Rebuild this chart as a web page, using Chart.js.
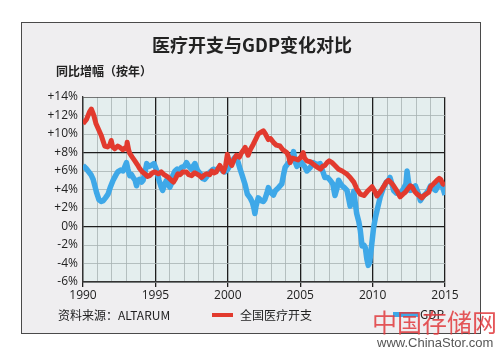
<!DOCTYPE html>
<html>
<head>
<meta charset="utf-8">
<script src="https://cdn.jsdelivr.net/npm/chart.js@4/dist/chart.umd.min.js"></script>
<style>
  html, body { margin: 0; padding: 0; background: #ffffff; }
  #wrap { position: relative; width: 500px; height: 352px; }
</style>
</head>
<body>
<div id="wrap"><canvas id="chartHealth"></canvas></div>
<script>
// ===== 医疗开支与GDP变化对比 =====

const CJK = "'Noto Sans CJK SC', 'Open Sans', sans-serif";

const COLORS = {
  red: '#e23a2e',
  blue: '#3ea8e8',
  panel: '#efeef0',
  plot: '#e4eeee',
  gridLight: '#a7b2b3',
  gridDark: '#1e1e1e',
  text: '#222222',
};

// x 轴刻度（年）与 y 轴范围
const yearTicks = [1990, 1995, 2000, 2005, 2010, 2015];
const yTicks = [-6, -4, -2, 0, 2, 4, 6, 8, 10, 12, 14];

// 全国医疗开支（同比 %）
const healthYears = [
  1990.0, 1990.25, 1990.45, 1990.58, 1990.75, 1990.9, 1991.1, 1991.27, 1991.5, 1991.7,
  1991.85, 1991.95, 1992.05, 1992.2, 1992.4, 1992.55, 1992.75, 1992.9, 1993.0, 1993.05,
  1993.15, 1993.23, 1993.4, 1993.58, 1993.75, 1993.9, 1994.1, 1994.27, 1994.45, 1994.6,
  1994.8, 1994.96, 1995.2, 1995.4, 1995.6, 1995.9, 1996.1, 1996.25, 1996.4, 1996.55,
  1996.7, 1996.9, 1997.15, 1997.3, 1997.5, 1997.7, 1997.85, 1998.05, 1998.2, 1998.4,
  1998.55, 1998.75, 1998.9, 1999.05, 1999.2, 1999.45, 1999.6, 1999.7, 1999.85, 1999.97,
  2000.1, 2000.27, 2000.45, 2000.6, 2000.8, 2000.96, 2001.1, 2001.2, 2001.4, 2001.55,
  2001.76, 2001.95, 2002.1, 2002.3, 2002.45, 2002.6, 2002.8, 2002.95, 2003.15, 2003.35,
  2003.6, 2003.8, 2004.07, 2004.2, 2004.3, 2004.45, 2004.65, 2004.85, 2005.05, 2005.2,
  2005.3, 2005.45, 2005.7, 2006.0, 2006.2, 2006.4, 2006.55, 2006.7, 2006.85, 2007.0,
  2007.2, 2007.4, 2007.65, 2007.9, 2008.2, 2008.45, 2008.7, 2008.9, 2009.15, 2009.4,
  2009.7, 2009.96, 2010.15, 2010.3, 2010.55, 2010.76, 2010.95, 2011.1, 2011.3, 2011.45,
  2011.7, 2011.9, 2012.1, 2012.26, 2012.45, 2012.6, 2012.72, 2012.9, 2013.07, 2013.25,
  2013.4, 2013.6, 2013.88, 2014.0, 2014.2, 2014.45, 2014.6, 2014.7, 2014.85, 2015.0
];
const healthValues = [
  11.1, 11.6, 12.4, 12.7, 12.0, 11.1, 10.4, 9.8, 8.7, 8.6,
  8.8, 9.3, 8.6, 8.4, 8.7, 8.55, 8.3, 8.5, 8.4, 9.1,
  8.3, 7.9, 7.5, 7.1, 6.7, 6.3, 5.9, 5.7, 5.4, 5.5,
  5.8, 5.9, 5.7, 5.9, 5.6, 5.3, 5.0, 4.8, 5.2, 5.7,
  5.6, 5.9, 5.9, 5.6, 5.5, 5.8, 5.7, 5.5, 5.3, 5.6,
  5.7, 5.6, 6.0, 5.8, 5.9, 6.6, 6.2, 5.9, 6.6, 7.8,
  7.1, 6.6, 7.3, 7.7, 7.5, 8.0, 8.3, 8.55, 7.7, 8.3,
  8.9, 9.5, 10.0, 10.2, 10.35, 10.0, 9.4, 9.5, 9.1, 8.8,
  8.7, 8.3, 8.0, 7.6, 6.9, 7.4, 7.3, 7.2, 7.5, 8.0,
  7.4, 7.1, 7.0, 6.6, 6.4, 6.2, 6.5, 6.6, 6.9, 7.1,
  6.9, 6.6, 6.2, 6.0, 5.7, 5.3, 4.8, 4.1, 3.5, 3.35,
  3.9, 4.3, 3.8, 3.3, 3.8, 4.3, 4.8, 5.0, 4.7, 4.4,
  3.8, 3.2, 3.5, 3.7, 4.1, 4.4, 4.3, 3.8, 3.5, 3.3,
  3.1, 3.4, 3.7, 4.3, 4.6, 5.0, 5.2, 5.1, 4.6, 4.5
];

// GDP（同比 %）
const gdpYears = [
  1990.0, 1990.2, 1990.35, 1990.55, 1990.7, 1990.85, 1990.95, 1991.1, 1991.25, 1991.4,
  1991.55, 1991.73, 1991.9, 1992.08, 1992.25, 1992.4, 1992.6, 1992.77, 1992.9, 1993.0,
  1993.1, 1993.23, 1993.35, 1993.46, 1993.6, 1993.7, 1993.8, 1993.9, 1994.05, 1994.15,
  1994.3, 1994.4, 1994.55, 1994.7, 1994.9, 1995.1, 1995.25, 1995.4, 1995.5, 1995.65,
  1995.77, 1995.9, 1996.0, 1996.1, 1996.2, 1996.35, 1996.5, 1996.65, 1996.8, 1997.0,
  1997.15, 1997.3, 1997.5, 1997.6, 1997.73, 1997.9, 1998.1, 1998.25, 1998.4, 1998.55,
  1998.65, 1998.85, 1999.0, 1999.2, 1999.46, 1999.65, 1999.8, 2000.0, 2000.15, 2000.35,
  2000.5, 2000.7, 2000.85, 2001.0, 2001.2, 2001.35, 2001.54, 2001.7, 2001.8, 2001.87,
  2001.95, 2002.1, 2002.3, 2002.45, 2002.55, 2002.7, 2002.8, 2002.95, 2003.15, 2003.3,
  2003.5, 2003.73, 2003.85, 2003.96, 2004.2, 2004.4, 2004.54, 2004.65, 2004.77, 2004.95,
  2005.1, 2005.3, 2005.46, 2005.7, 2005.9, 2006.15, 2006.38, 2006.55, 2006.7, 2006.9,
  2007.07, 2007.25, 2007.4, 2007.55, 2007.65, 2007.8, 2007.9, 2008.05, 2008.23, 2008.35,
  2008.45, 2008.6, 2008.7, 2008.8, 2008.9, 2009.05, 2009.15, 2009.27, 2009.4, 2009.5,
  2009.6, 2009.7, 2009.8, 2009.9, 2010.07, 2010.2, 2010.3, 2010.53, 2010.76, 2010.95,
  2011.1, 2011.2, 2011.35, 2011.45, 2011.65, 2011.9, 2012.1, 2012.3, 2012.38, 2012.48,
  2012.6, 2012.8, 2012.95, 2013.15, 2013.3, 2013.5, 2013.65, 2013.85, 2014.0, 2014.2,
  2014.35, 2014.5, 2014.7, 2014.85, 2015.0
];
const gdpValues = [
  6.6, 6.3, 6.0, 5.6, 5.1, 4.2, 3.6, 2.9, 2.7, 2.8,
  3.1, 3.5, 4.3, 5.0, 5.5, 5.9, 6.1, 6.0, 6.5, 6.9,
  6.2, 5.5, 5.6, 5.3, 5.0, 4.4, 5.0, 5.1, 4.8, 5.0,
  6.0, 6.8, 6.5, 6.6, 6.8, 6.0, 5.0, 4.25, 3.9, 4.6,
  5.0, 4.5, 4.25, 4.6, 5.5, 6.0, 6.2, 6.0, 6.4, 6.5,
  6.9, 6.5, 6.2, 6.5, 6.8, 6.1, 5.7, 5.2, 5.1, 5.4,
  5.7, 6.0, 6.2, 6.1, 6.4, 6.0, 5.9, 6.2, 6.6, 7.2,
  7.5, 7.0, 6.2, 5.5, 4.5, 3.5, 3.1, 2.6, 2.0, 1.4,
  2.2, 3.1, 2.8, 2.7, 2.9, 3.6, 4.2, 3.7, 3.4, 3.9,
  4.2, 4.6, 5.6, 6.4, 6.9, 7.3, 8.1, 7.0, 6.5, 6.7,
  6.9, 6.5, 6.0, 6.4, 6.9, 6.7, 6.8, 6.0, 5.3, 5.3,
  5.0, 4.6, 3.35, 4.2, 5.0, 4.6, 4.4, 4.2, 3.9, 3.0,
  2.2, 3.0, 3.8, 2.6, 1.4, 0.5, -0.4, -2.1, -2.0, -2.3,
  -3.5, -4.2, -3.9, -2.5, -0.1, 1.0, 1.7, 3.2, 4.25, 4.8,
  5.0, 5.3, 4.5, 3.9, 3.6, 3.5, 4.0, 4.6, 6.0, 4.8,
  3.9, 4.2, 4.4, 3.6, 2.8, 3.3, 3.5, 3.9, 4.4, 4.1,
  3.9, 4.3, 4.75, 4.2, 3.4
];

const toPoints = (xs, ys) => xs.map((x, i) => ({ x: x, y: ys[i] }));

// Panel, title, legend and watermark drawn around the plot
const framePlugin = {
  id: 'frame',
  beforeDraw(chart) {
    const { ctx, chartArea } = chart;
    ctx.save();
    ctx.fillStyle = '#ffffff';
    ctx.fillRect(0, 0, chart.width, chart.height);
    ctx.fillStyle = COLORS.panel;
    ctx.fillRect(21, 22, 459, 311);
    ctx.strokeStyle = '#4a4a4a';
    ctx.lineWidth = 1;
    ctx.strokeRect(21.5, 22.5, 459, 311);
    ctx.fillStyle = COLORS.plot;
    ctx.fillRect(chartArea.left, chartArea.top, chartArea.right - chartArea.left, chartArea.bottom - chartArea.top);
    ctx.restore();
  },
  afterDraw(chart) {
    const { ctx } = chart;
    ctx.save();
    ctx.textBaseline = 'middle';
    ctx.fillStyle = COLORS.text;

    ctx.font = 'bold 18px ' + CJK;
    ctx.textAlign = 'center';
    ctx.fillText('医疗开支与GDP变化对比', 252, 45);

    ctx.font = 'bold 12px ' + CJK;
    ctx.textAlign = 'left';
    ctx.fillText('同比增幅（按年）', 56, 71);

    // legend row
    ctx.font = '12px ' + CJK;
    ctx.fillText('资料来源：ALTARUM', 58, 315);
    ctx.fillStyle = COLORS.red;
    ctx.fillRect(212, 313, 21, 4);
    ctx.fillStyle = COLORS.text;
    ctx.fillText('全国医疗开支', 240, 315);
    ctx.fillStyle = COLORS.blue;
    ctx.fillRect(393, 312, 25, 5);
    ctx.fillStyle = COLORS.text;
    ctx.fillText('GDP', 420, 314);

    // watermark
    ctx.globalAlpha = 0.85;
    ctx.fillStyle = '#e0383c';
    ctx.font = '25px ' + CJK;
    ctx.fillText('中国存储网', 372, 322);
    ctx.globalAlpha = 1;
    ctx.fillStyle = '#555555';
    ctx.font = '13px ' + "'Liberation Sans', Arial, sans-serif";
    ctx.fillText('www.ChinaStor.com', 377, 343);
    ctx.restore();
  }
};

new Chart(document.getElementById('chartHealth'), {
  type: 'line',
  data: {
    datasets: [
      {
        label: '全国医疗开支',
        data: toPoints(healthYears, healthValues),
        borderColor: COLORS.red,
        borderWidth: 5,
        pointRadius: 0,
        tension: 0,
        borderJoinStyle: 'round',
      },
      {
        label: 'GDP',
        data: toPoints(gdpYears, gdpValues),
        borderColor: COLORS.blue,
        borderWidth: 5.5,
        pointRadius: 0,
        tension: 0,
        borderJoinStyle: 'round',
      }
    ]
  },
  options: {
    responsive: true,
    maintainAspectRatio: false,
    animation: false,
    layout: { padding: { left: 0, right: 55, top: 97, bottom: 50 } },
    plugins: {
      legend: { display: false },
      tooltip: { enabled: false },
    },
    scales: {
      x: {
        type: 'linear',
        min: yearTicks[0],
        max: yearTicks[yearTicks.length - 1],
        afterBuildTicks(scale) {
          const t = [];
          for (let y = yearTicks[0]; y <= yearTicks[yearTicks.length - 1]; y++) t.push({ value: y });
          scale.ticks = t;
        },
        afterFit(scale) { scale.height = 20; },
        border: { color: '#333', width: 1.5 },
        grid: {
          color: (c) => (c.tick && c.tick.value % 5 === 0 ? COLORS.gridDark : COLORS.gridLight),
          lineWidth: (c) => (c.tick && c.tick.value % 5 === 0 ? 1.3 : 0.8),
          tickColor: (c) => (c.tick && c.tick.value % 5 === 0 ? COLORS.gridDark : 'rgba(0,0,0,0)'),
          tickLength: 5,
        },
        ticks: {
          autoSkip: false,
          maxRotation: 0,
          padding: 1,
          color: COLORS.text,
          font: { size: 12, family: "'Open Sans', sans-serif" },
          callback: (v) => (yearTicks.includes(v) ? String(v) : ''),
        },
      },
      y: {
        min: yTicks[0],
        max: yTicks[yTicks.length - 1],
        afterBuildTicks(scale) { scale.ticks = yTicks.map((v) => ({ value: v })); },
        afterFit(scale) { scale.width = 83; },
        border: { color: '#333', width: 1.3 },
        grid: {
          drawTicks: false,
          color: (c) => {
            const v = c.tick && c.tick.value;
            if (v === 0 || v === 8) return COLORS.gridDark;
            if (v === 14) return '#555';
            return COLORS.gridLight;
          },
          lineWidth: (c) => {
            const v = c.tick && c.tick.value;
            return v === 0 || v === 8 ? 1.3 : 0.8;
          },
        },
        ticks: {
          padding: 5,
          color: COLORS.text,
          font: { size: 12, family: "'Open Sans', sans-serif" },
          callback: (v) => (v > 0 ? '+' + v + '%' : v + '%'),
        },
      }
    }
  },
  plugins: [framePlugin]
});
</script>
</body>
</html>
